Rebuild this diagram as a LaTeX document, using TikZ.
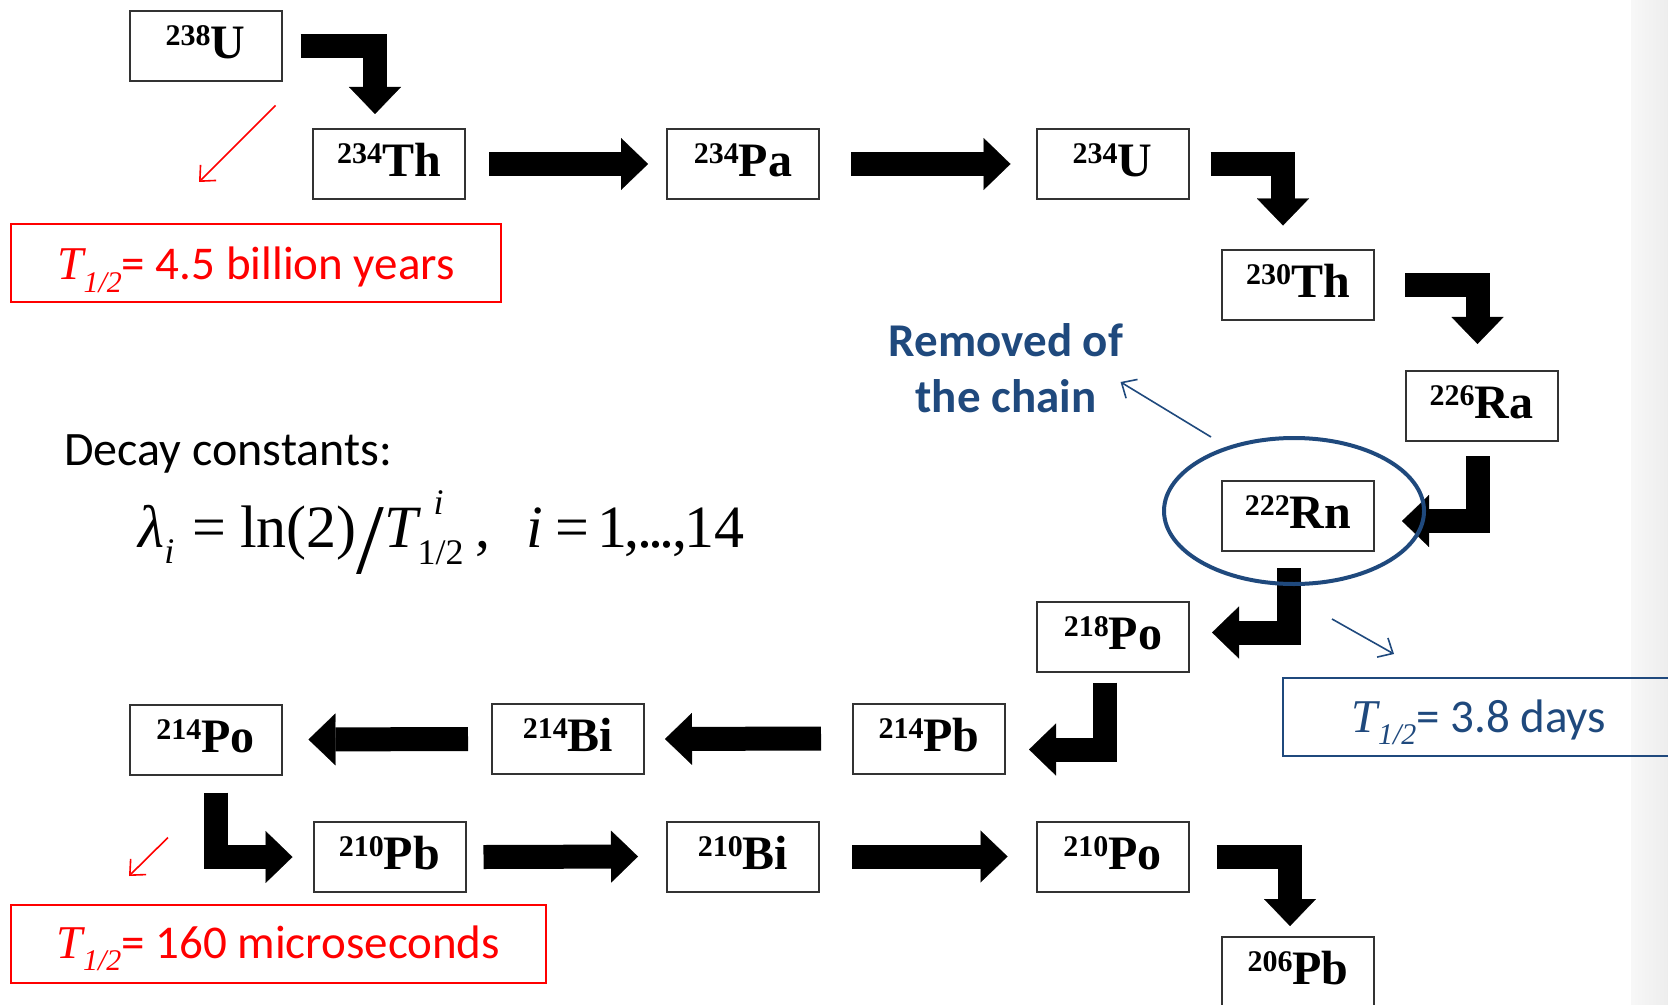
\documentclass[tikz,border=0pt]{standalone}
\usepackage{fontspec}
\setmainfont{Carlito}
\newfontfamily\timesfont{Liberation Serif}
\usetikzlibrary{arrows.meta}

\definecolor{chainblue}{HTML}{1F497D}

% nuclide label: mass number raised, then element
\newcommand{\iso}[2]{\raisebox{6.5pt}{\fontsize{15}{15}\selectfont #1}#2}
% half-life symbol
\newcommand{\halflife}{{\timesfont\itshape T\raisebox{-6pt}{\fontsize{15}{15}\selectfont 1/2}}}

\tikzset{
  isobox/.style={draw=black!80, line width=1pt, minimum width=76pt, minimum height=35pt,
    inner sep=0pt, text height=14pt, text depth=1.5pt,
    font=\timesfont\bfseries\fontsize{24}{24}\selectfont},
  bigarrow/.style={line width=12pt, line join=miter,
    -{Triangle[length=13.5pt, width=26pt, line width=0.1pt]}},
  notebox/.style={draw, line width=1pt, minimum height=39pt, inner sep=0pt,
    text height=15pt, text depth=0pt, font=\fontsize{23.5}{28}\selectfont},
  thinarrow/.style={line width=0.8pt, -{Straight Barb[length=6pt, width=11pt]}},
}

\begin{document}
\begin{tikzpicture}[x=0.5pt, y=-0.5pt]

    % Page
    \useasboundingbox (0,0) rectangle (1668,1005);
    \clip (0,0) rectangle (1668,1005);
    \shade[left color=black!3, right color=black!7] (1631,0) rectangle (1668,1005);

    % Nuclides, top row
    \node[isobox] (u238)  at (205.5,46.5) {\iso{238}{U}};
    \node[isobox] (th234) at (389,164)    {\iso{234}{Th}};
    \node[isobox] (pa234) at (743,164)    {\iso{234}{Pa}};
    \node[isobox] (u234)  at (1112.5,164) {\iso{234}{U}};

    % Nuclides, right side going down
    \node[isobox] (th230) at (1298,285.5)   {\iso{230}{Th}};
    \node[isobox] (ra226) at (1481.5,406)   {\iso{226}{Ra}};
    \node[isobox] (rn222) at (1298,516)     {\iso{222}{Rn}};
    \node[isobox] (po218) at (1113,636.5)   {\iso{218}{Po}};

    % Nuclides, bottom rows
    \node[isobox] (pb214) at (929,738.5)   {\iso{214}{Pb}};
    \node[isobox] (bi214) at (568,739)     {\iso{214}{Bi}};
    \node[isobox] (po214) at (205.5,739.5) {\iso{214}{Po}};
    \node[isobox] (pb210) at (389.5,857)   {\iso{210}{Pb}};
    \node[isobox] (bi210) at (743,856.5)   {\iso{210}{Bi}};
    \node[isobox] (po210) at (1112.5,856.5) {\iso{210}{Po}};
    \node[isobox] (pb206) at (1298,972)    {\iso{206}{Pb}};

    % Straight decays
    \draw[bigarrow] ([xshift=11.5pt]th234.east) -- ([xshift=-9pt]pa234.west);
    \draw[bigarrow] ([xshift=15.5pt]pa234.east) -- ([xshift=-12.5pt]u234.west);
    \draw[bigarrow] ([xshift=-15.5pt]pb214.west) -- ([xshift=10pt]bi214.east);
    \draw[bigarrow] ([xshift=-11.5pt]bi214.west) -- ([xshift=13pt]po214.east);
    \draw[bigarrow] ([xshift=8.5pt]pb210.east) -- ([xshift=-14pt]bi210.west);
    \draw[bigarrow] ([xshift=16pt]bi210.east) -- ([xshift=-14pt]po210.west);

    % Bent decays
    \draw[bigarrow] ([xshift=9pt]u238.east) -| ([xshift=-7pt,yshift=7pt]th234.north);
    \draw[bigarrow] ([xshift=10.5pt]u234.east) -| ([xshift=-7.5pt,yshift=12pt]th230.north);
    \draw[bigarrow] ([xshift=15pt]th230.east) -| ([xshift=-2pt,yshift=13pt]ra226.north);
    \draw[bigarrow] ([xshift=-2pt,yshift=-7pt]ra226.south) |- ([xshift=13.5pt,yshift=-2.5pt]rn222.east);
    \draw[bigarrow] ([xshift=-4.5pt,yshift=-8pt]rn222.south) |- ([xshift=11pt,yshift=2pt]po218.east);
    \draw[bigarrow] ([xshift=-4pt,yshift=-5pt]po218.south) |- ([xshift=11.5pt,yshift=-5.5pt]pb214.east);
    \draw[bigarrow] ([xshift=5pt,yshift=-8.5pt]po214.south) |- ([xshift=-10pt]pb210.west);
    \draw[bigarrow] ([xshift=13.5pt]po210.east) -| ([xshift=-4pt,yshift=5pt]pb206.north);

    % Radon taken out of the chain
    \draw[chainblue, line width=2pt] ([xshift=-2pt,yshift=2.5pt]rn222.center) ellipse [x radius=130, y radius=73];
    \node[text=chainblue, font=\bfseries\fontsize{23.5}{28}\selectfont, align=center, inner sep=0pt]
      (removed) at (1006,368) {Removed of\\the chain};
    \draw[thinarrow, chainblue] ([shift={(-87,-43)}]rn222.north) -- ([shift={(-3,14)}]removed.east);

    % Half-lives
    \node[notebox, draw=red, text=red, minimum width=245pt, text height=17pt] (uhalf) at (256,263) {\halflife= 4.5 billion years};
    \node[notebox, draw=red, text=red, minimum width=267.5pt, text height=14pt] (pohalf) at (278.5,944) {\halflife= 160 microseconds};
    \node[notebox, draw=chainblue, text=chainblue, minimum width=196pt] (rnhalf) at (1479,717) {\halflife= 3.8 days};
    \draw[thinarrow, red] ([shift={(70,23)}]u238.south) -- ([shift={(-57,-41)}]uhalf.north);
    \draw[thinarrow, red] ([shift={(-37.5,62)}]po214.south) -- ([shift={(-149.5,-28)}]pohalf.north);
    \draw[thinarrow, chainblue] ([shift={(34,67)}]rn222.south) -- ([shift={(112,-23)}]rnhalf.north west);

    % Decay constants
    \node[anchor=base west, inner sep=0pt, font=\fontsize{24}{28}\selectfont] (decaylabel) at (64,465) {Decay constants:};
    \node[anchor=base west, inner sep=0pt, font=\timesfont\fontsize{30}{30}\selectfont] (lambda) at (138,547)
      {\textit{λ}\raisebox{-8pt}{\fontsize{18}{18}\selectfont\itshape i}\hspace{9pt}=\hspace{7pt}ln(2)\raisebox{-13pt}{\fontsize{50}{50}\selectfont /}\textit{T}\rlap{\hspace{6pt}\raisebox{16.5pt}{\fontsize{18}{18}\selectfont\itshape i}}\hspace{-2pt}\raisebox{-8.5pt}{\fontsize{18}{18}\selectfont 1/2}\hspace{6pt},\hspace{18pt}\textit{i}\hspace{6pt}=\hspace{4pt}1\kern-1.5pt,\kern-1pt.\kern-2pt.\kern-2pt.\kern-1pt,\kern-1.5pt14};

\end{tikzpicture}
\end{document}
